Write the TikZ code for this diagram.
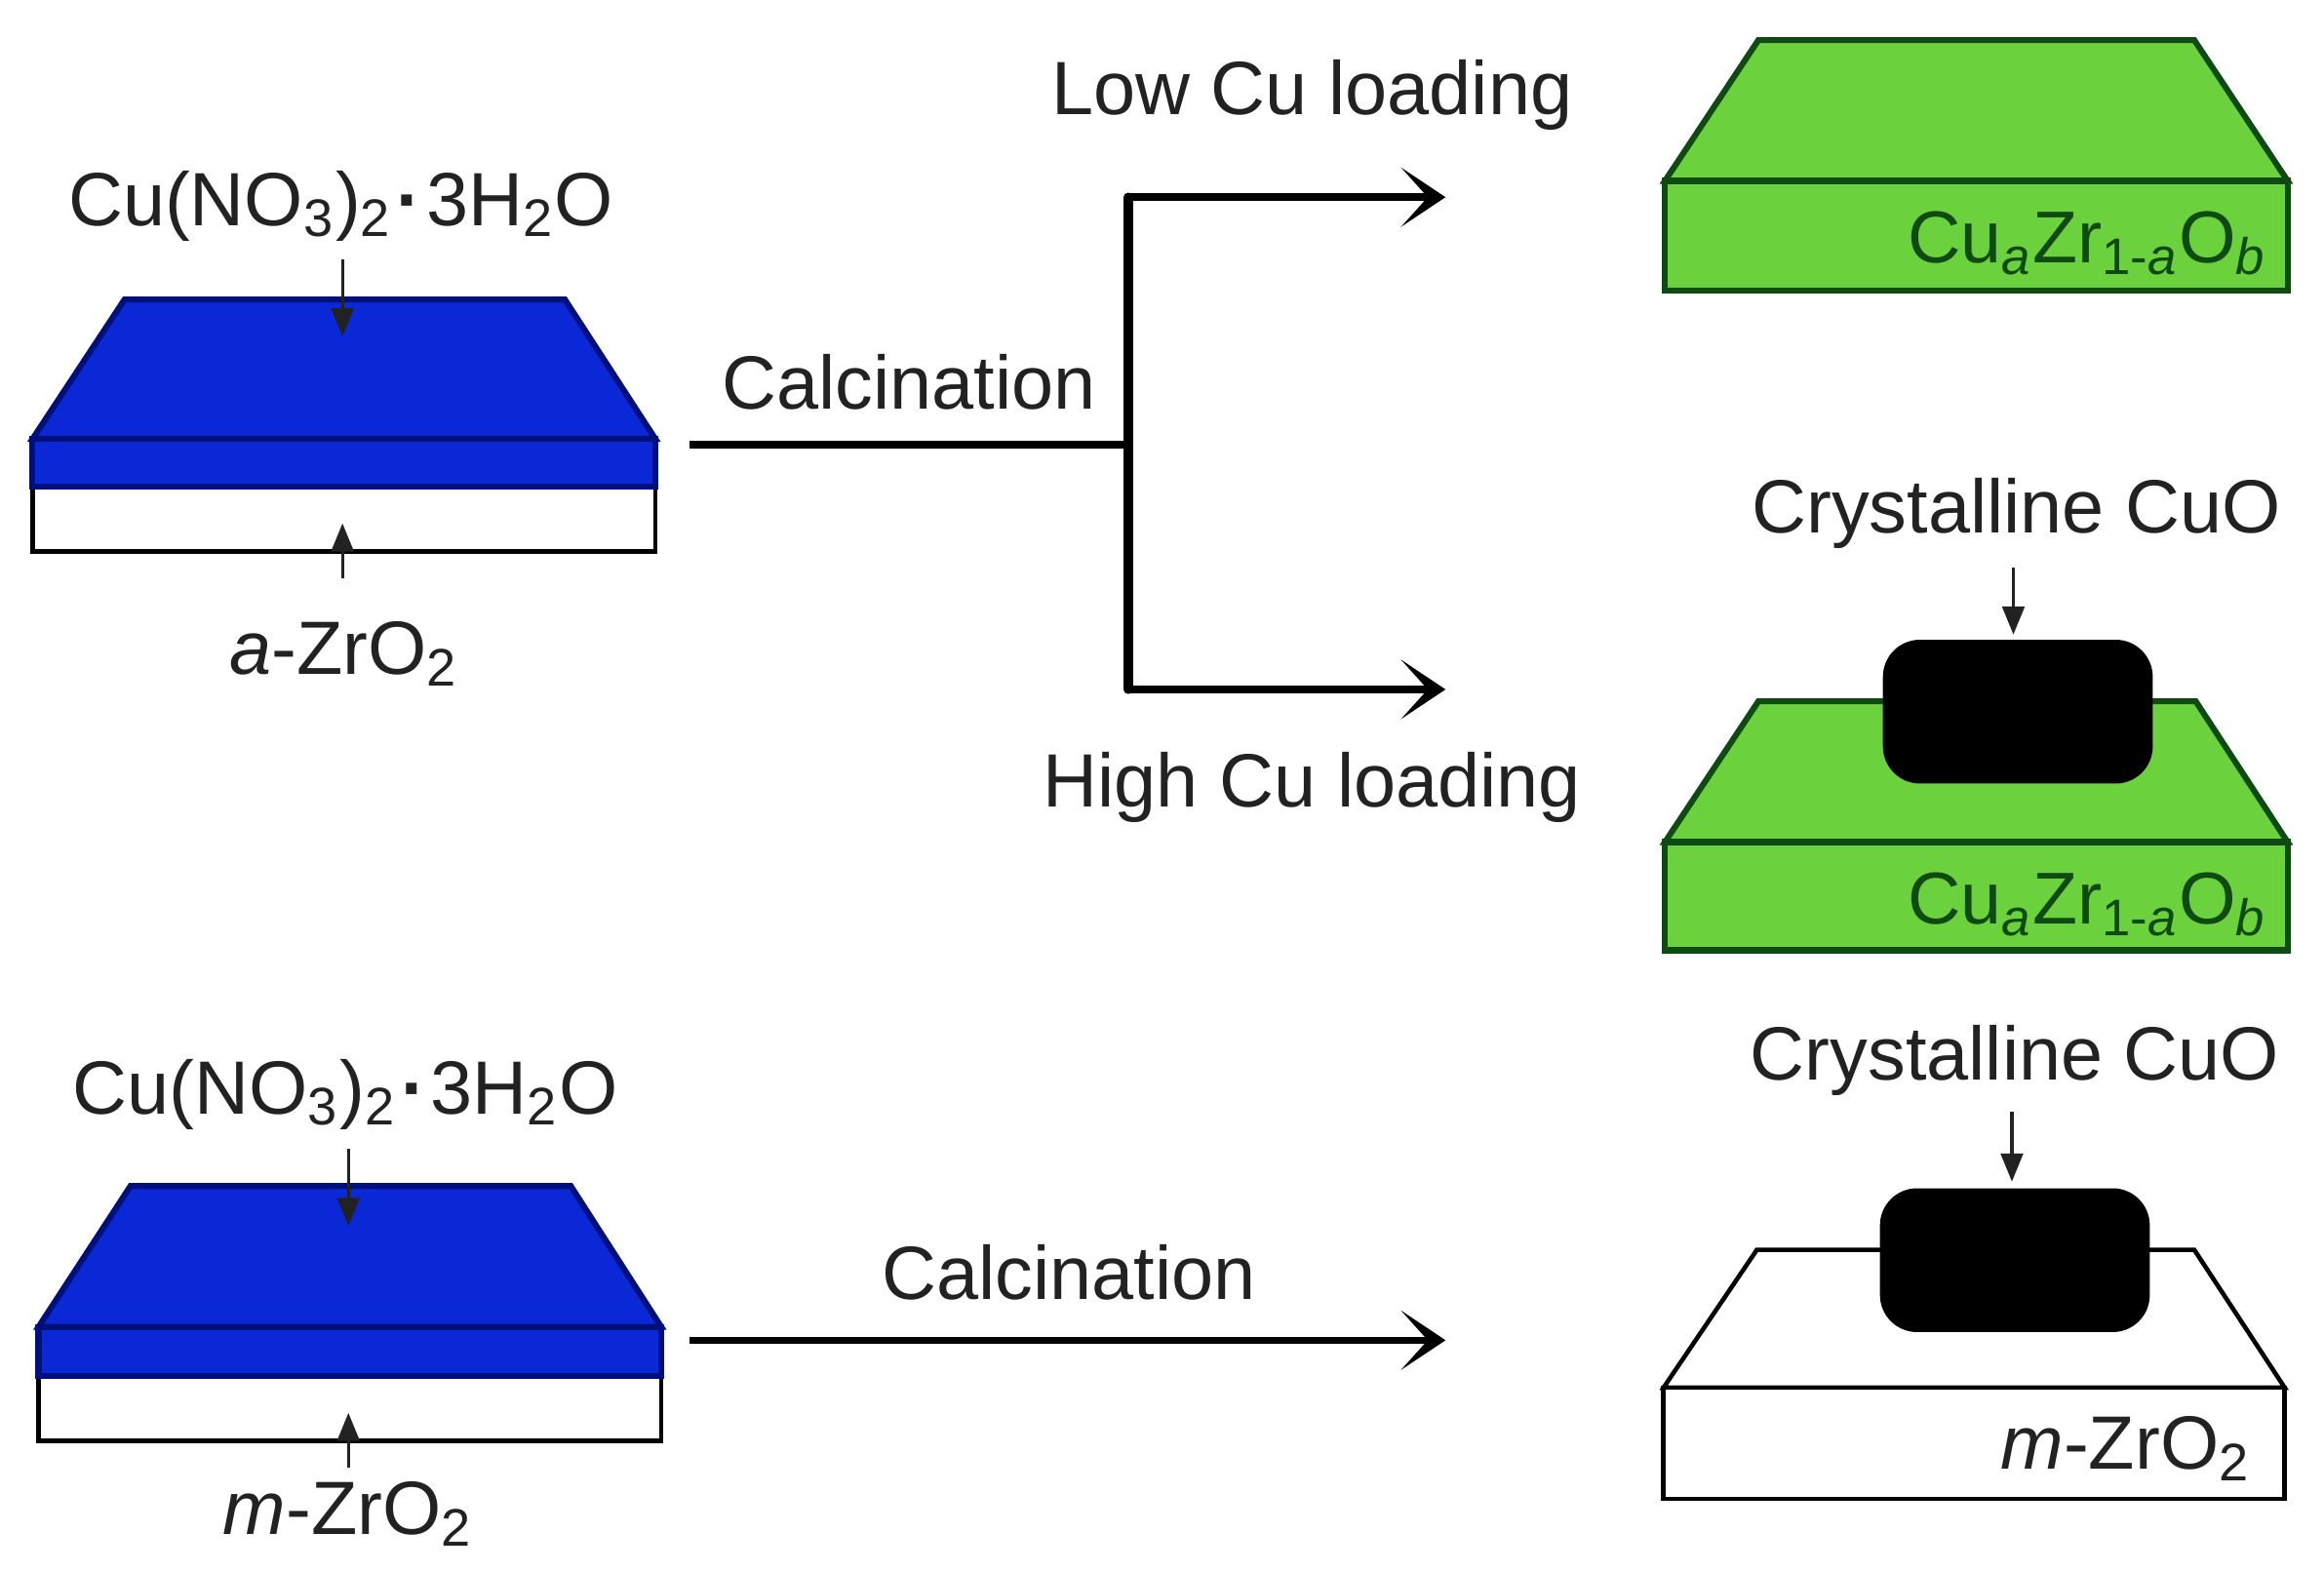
\documentclass[tikz,border=0pt]{standalone}
\usepackage{fontspec}
\setmainfont{Liberation Sans}
\usepackage{tikz}
\usetikzlibrary{arrows.meta}

\definecolor{blueFill}{HTML}{0A28D6}
\definecolor{blueEdge}{HTML}{00107A}
\definecolor{greenFill}{HTML}{6BD13D}
\definecolor{greenEdge}{HTML}{0E4A12}
\definecolor{inkGrey}{HTML}{222222}

\tikzset{
  lbl/.style={text=inkGrey, font=\fontsize{14.5pt}{16pt}\selectfont, inner sep=0pt},
  lblgreen/.style={lbl, text=greenEdge, anchor=east, font=\fontsize{14.1pt}{16pt}\selectfont},
  wire/.style={line width=0.5mm, black},
  trunk/.style={line width=0.62mm, black, line cap=round},
  bigarrow/.style={wire, -{Stealth[length=3mm, width=4mm, inset=1.8mm]}},
  smallarrow/.style={line width=0.2mm, inkGrey, -{Triangle[length=1.9mm, width=1.5mm]}},
  blueslab/.style={draw=blueEdge, fill=blueFill, line width=0.4mm},
  greenslab/.style={draw=greenEdge, fill=greenFill, line width=0.4mm},
  whiteslab/.style={draw=black, fill=white, line width=0.3mm},
  cuo/.style={fill=black, rounded corners=2.5mm, inner sep=0pt, minimum width=18.2mm, minimum height=9.7mm}
}

\begin{document}
\begin{tikzpicture}[x=0.1mm, y=-0.1mm]
\useasboundingbox (0,0) rectangle (1567.5,1060);

% left, amorphous support
\draw[whiteslab] (22,328) rectangle (442,372);
\draw[blueslab] (22,296) -- (84,202) -- (381,202) -- (442,296) -- cycle;
\draw[blueslab] (22,296) rectangle (442,328);
\node[lbl] at (230,139) (salt1) {Cu(NO\textsubscript{3})\textsubscript{2}\hspace{0.8pt}\textbf{·}\hspace{0.8pt}3H\textsubscript{2}O};
\node[lbl] at (232,441) (support1) {\textit{a}-ZrO\textsubscript{2}};
\coordinate (salt1tip) at (231,227);
\coordinate (support1tip) at (231,353);
\draw[smallarrow] (231,175) -- (salt1tip);
\draw[smallarrow] (231,390) -- (support1tip);

% left, monoclinic support
\draw[whiteslab] (26,928) rectangle (446,972);
\draw[blueslab] (26,895) -- (88,800) -- (385,800) -- (446,895) -- cycle;
\draw[blueslab] (26,895) rectangle (446,928);
\node[lbl] at (233,738) (salt2) {Cu(NO\textsubscript{3})\textsubscript{2}\hspace{0.8pt}\textbf{·}\hspace{0.8pt}3H\textsubscript{2}O};
\node[lbl] at (235,1021) (support2) {\textit{m}-ZrO\textsubscript{2}};
\coordinate (salt2tip) at (235,827);
\coordinate (support2tip) at (235,953);
\draw[smallarrow] (235,775) -- (salt2tip);
\draw[smallarrow] (235,990) -- (support2tip);

% branching arrows
\coordinate (start1) at (465,300);
\coordinate (branch) at (761,300);
\coordinate (lowturn) at (761,133);
\coordinate (highturn) at (761,465);
\coordinate (low) at (975,133);
\coordinate (high) at (975,465);
\draw[wire] (start1) -- (branch);
\draw[bigarrow] (lowturn) -- (low);
\draw[bigarrow] (highturn) -- (high);
\draw[trunk] (lowturn) -- (highturn);
\node[lbl] at (613,258) (calc1) {Calcination};
\node[lbl] at (885,64) (lowcu) {Low Cu loading};
\node[lbl] at (885,531) (highcu) {High Cu loading};

\coordinate (start2) at (465,904);
\coordinate (end2) at (975,904);
\draw[bigarrow] (start2) -- (end2);
\node[lbl] at (721,858) (calc2) {Calcination};

% right, low loading
\draw[greenslab] (1123,122) -- (1186,27) -- (1480,27) -- (1543,122) -- cycle;
\draw[greenslab] (1123,122) rectangle (1543,196);
\node[lblgreen] at (1530,164) (mixed1) {Cu\textsubscript{\textit{a}}Zr\textsubscript{1-\textit{a}}O\textsubscript{\textit{b}}};

% right, high loading
\draw[greenslab] (1123,568) -- (1186,473) -- (1481,473) -- (1543,568) -- cycle;
\draw[greenslab] (1123,568) rectangle (1543,641);
\node[cuo] at (1361,480) (cuo1) {};
\node[lblgreen] at (1530,610) (mixed2) {Cu\textsubscript{\textit{a}}Zr\textsubscript{1-\textit{a}}O\textsubscript{\textit{b}}};
\node[lbl] at (1360,346) (cryst1) {Crystalline CuO};
\coordinate (cryst1tip) at (1358,428);
\draw[smallarrow] (1358,383) -- (cryst1tip);

% right, monoclinic
\draw[whiteslab] (1122,936) -- (1185,843) -- (1480,843) -- (1541,936) -- cycle;
\draw[whiteslab] (1122,936) rectangle (1541,1011);
\node[cuo] at (1359,850) (cuo2) {};
\node[lbl, anchor=east] at (1519,977) (support3) {\textit{m}-ZrO\textsubscript{2}};
\node[lbl] at (1359,715) (cryst2) {Crystalline CuO};
\coordinate (cryst2tip) at (1357,797);
\draw[smallarrow] (1357,750) -- (cryst2tip);
\end{tikzpicture}
\end{document}
